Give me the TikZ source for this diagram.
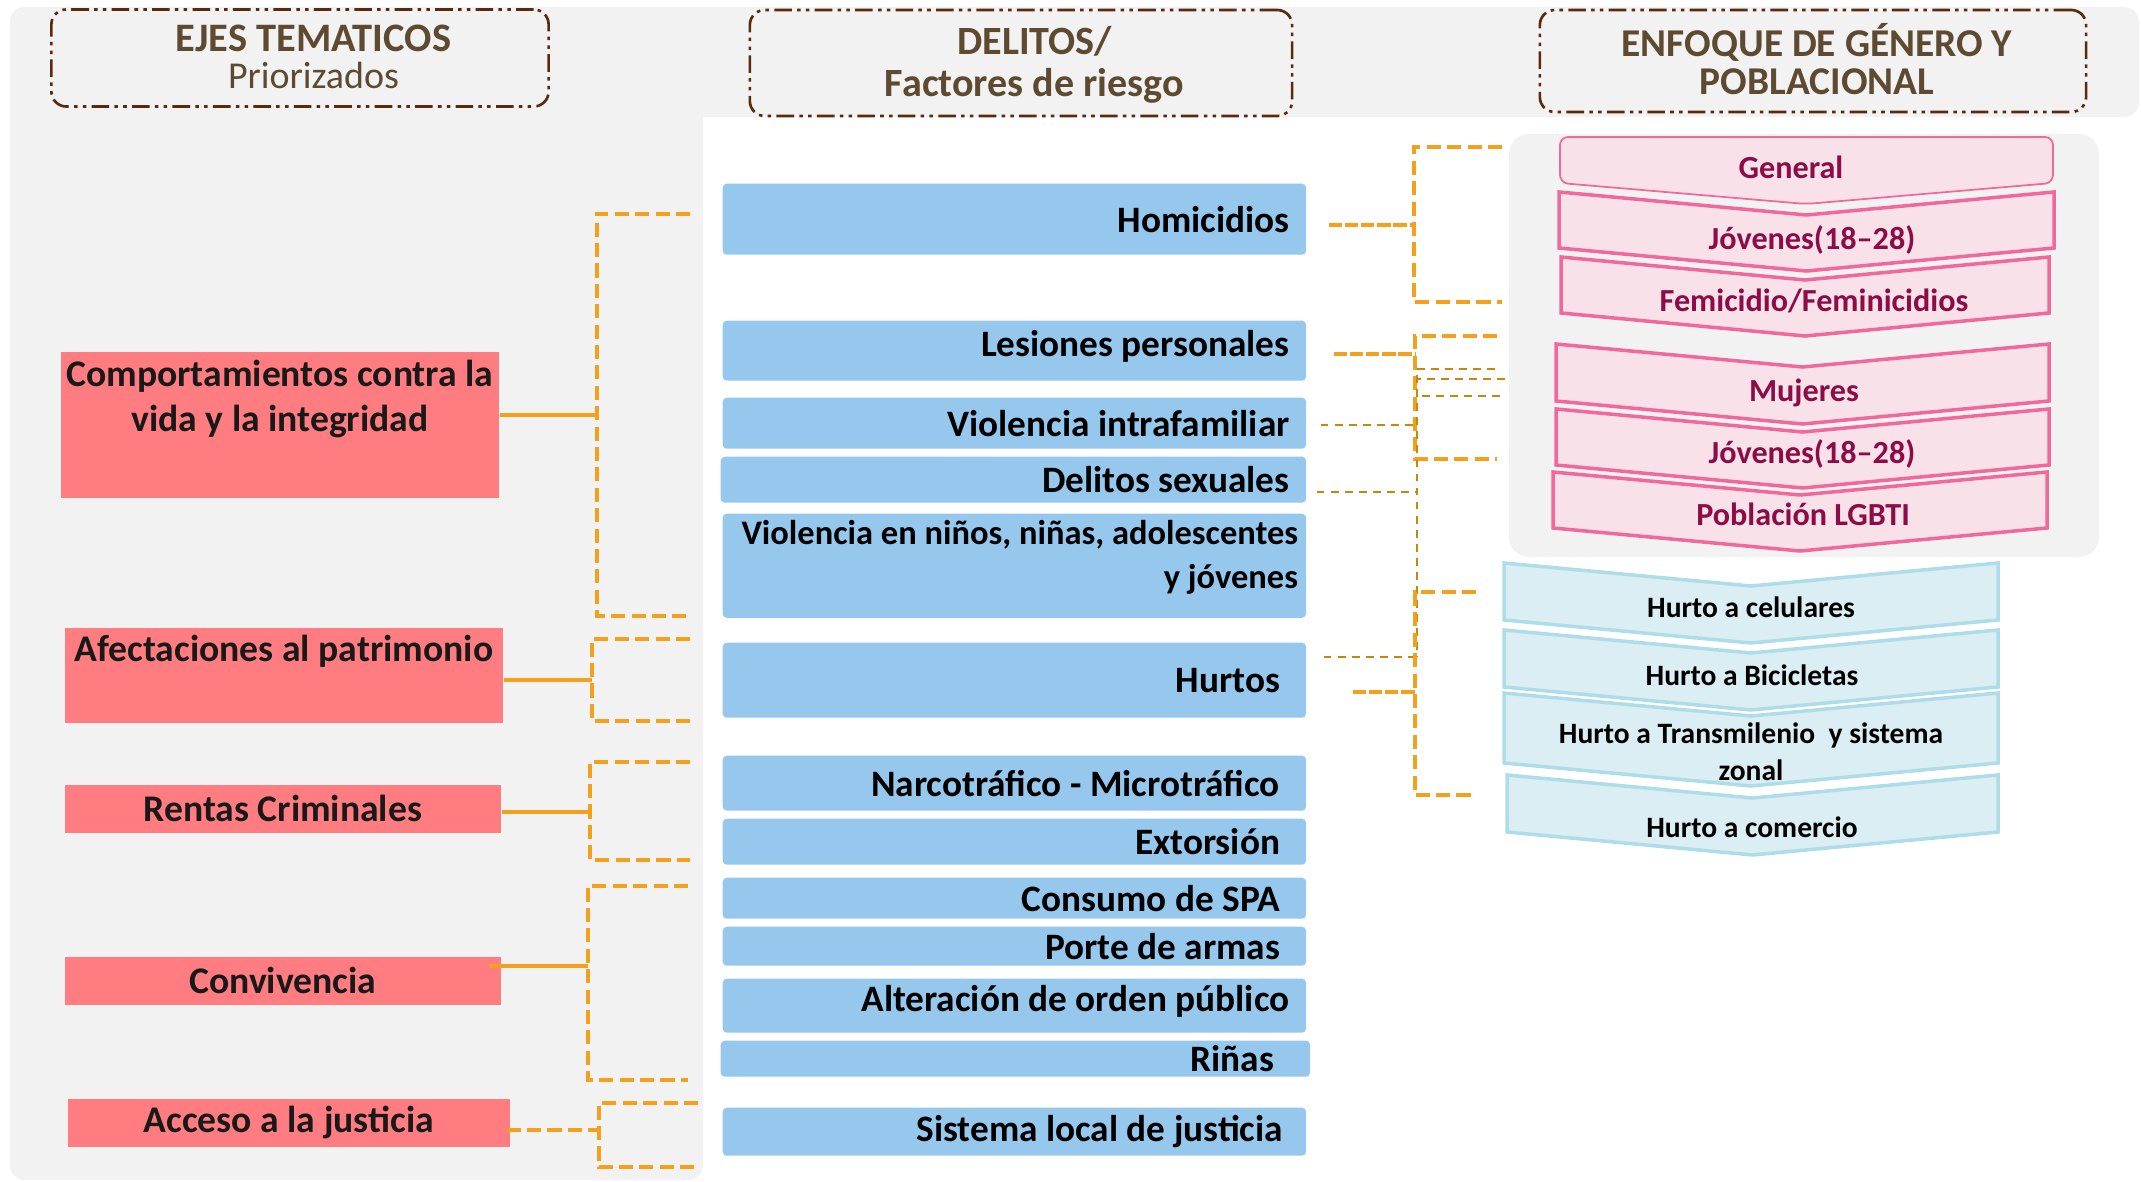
\documentclass[tikz,border=0pt]{standalone}
\usepackage{fontspec}
\setmainfont{Carlito}
\usetikzlibrary{positioning}

\definecolor{panelgray}{HTML}{F2F2F2}
\definecolor{hdrbrown}{HTML}{5E4A30}
\definecolor{hdrline}{HTML}{5A2A0E}
\definecolor{ejered}{HTML}{FF7C80}
\definecolor{delitoblue}{HTML}{95C8EC}
\definecolor{linkorange}{HTML}{F3A01C}
\definecolor{linkdark}{HTML}{C8860D}
\definecolor{pinkfill}{HTML}{F9E1EA}
\definecolor{pinkline}{HTML}{F0699A}
\definecolor{pinktext}{HTML}{8C0C45}
\definecolor{cyanfill}{HTML}{DAEEF3}
\definecolor{cyanline}{HTML}{AEDDE9}

\newcommand{\chevpath}[4]{(#1,#3) -- ({(#1+#2)/2},{#3+23}) -- (#2,#3) -- (#2,#4) -- ({(#1+#2)/2},{#4+23}) -- (#1,#4) -- cycle}

\begin{document}
\begin{tikzpicture}[x=0.01cm,y=-0.01cm]
    \tikzstyle{header}=[draw=hdrline, line width=0.75pt, dash pattern=on 5pt off 1.5pt on 1pt off 1.5pt on 1pt off 1.5pt, rounded corners=0.15cm, inner sep=0pt]
    \tikzstyle{hdrtext}=[align=flush center, text=hdrbrown, inner sep=0pt]
    \tikzstyle{eje}=[fill=ejered, anchor=north west, inner sep=0pt, align=flush center, text=black!90, font=\fontsize{10.7}{12.8}\selectfont\bfseries]
    \tikzstyle{ejetext}=[align=flush center, text=black!90, inner sep=0pt, font=\fontsize{10.7}{12.8}\selectfont\bfseries]
    \tikzstyle{delito}=[fill=delitoblue, rounded corners=0.04cm, anchor=north west, minimum width=5.83cm, text width=5.5cm, align=flush right, inner ysep=0pt, font=\fontsize{10.6}{12.5}\selectfont\bfseries]
    \tikzstyle{pinkchev}=[draw=pinkline, fill=pinkfill, line width=1pt]
    \tikzstyle{cyanchev}=[draw=cyanline, fill=cyanfill, line width=1pt]
    \tikzstyle{pinktxt}=[text=pinktext, inner sep=0pt, text height=0.7em, text depth=0.2em, font=\fontsize{9.15}{10.5}\selectfont\bfseries]
    \tikzstyle{cyantxt}=[align=flush center, inner sep=0pt, font=\fontsize{8.4}{10.5}\selectfont\bfseries]
    \tikzstyle{tie}=[draw=linkorange, line width=1.1pt]
    \tikzstyle{tiedash}=[tie, dash pattern=on 3.8pt off 0.8pt]
    \tikzstyle{bracket}=[tie, dash pattern=on 4pt off 1.8pt]
    \tikzstyle{thinlink}=[draw=linkdark, line width=0.55pt, dash pattern=on 2.2pt off 1.8pt]

    \useasboundingbox (0,0) rectangle (2141,1182);
    \fill[panelgray, rounded corners=0.15cm] (10,7) rectangle (2139,117);
    \fill[panelgray, rounded corners=0.15cm] (10,7) rectangle (703,1180);
    \fill[panelgray, rounded corners=0.2cm] (1509,134) rectangle (2099,557);

    \node[header, minimum width=4.97cm, minimum height=0.97cm] (ejes) at (300,58) {};
    \node[hdrtext, font=\fontsize{11.5}{10.5}\selectfont\bfseries] (ejestxt) at ([xshift=1.35mm,yshift=0.1mm]ejes.center) {EJES TEMATICOS\\{\fontsize{10.8}{10.5}\selectfont\mdseries Priorizados}};
    \node[header, minimum width=5.42cm, minimum height=1.06cm] (delitos) at (1021,63) {};
    \node[hdrtext, font=\fontsize{11.4}{11.8}\selectfont\bfseries] (delitostxt) at ([xshift=1.35mm,yshift=-0.2mm]delitos.center) {DELITOS/\\Factores de riesgo};
    \node[header, minimum width=5.46cm, minimum height=1.02cm] (enfoque) at (1813,61) {};
    \node[hdrtext, font=\fontsize{11.2}{11}\selectfont\bfseries] (enfoquetxt) at ([xshift=0.4mm,yshift=0.2mm]enfoque.center) {ENFOQUE DE GÉNERO Y\\POBLACIONAL};

    \node[eje, minimum width=4.38cm, minimum height=1.46cm] (comp) at (60,351) {};
    \node[ejetext, anchor=north] (comptxt) at ([yshift=-0.8mm]comp.north) {Comportamientos contra la\\vida y la integridad};
    \node[eje, minimum width=4.38cm, minimum height=0.95cm] (afect) at (64,627) {};
    \node[ejetext, anchor=north] (afecttxt) at ([yshift=-0.7mm]afect.north) {Afectaciones al patrimonio};
    \node[eje, minimum width=4.36cm, minimum height=0.48cm] (rentas) at (64,784) {Rentas Criminales};
    \node[eje, minimum width=4.36cm, minimum height=0.48cm] (conv) at (64,956) {Convivencia};
    \node[eje, minimum width=4.42cm, minimum height=0.48cm] (acceso) at (67,1098) {Acceso a la justicia};

    \node[delito, minimum height=0.71cm] (homi) at (722,183) {Homicidios};
    \node[delito, minimum height=0.60cm, text depth=0.42em] (lesion) at (722,320) {Lesiones personales};
    \node[delito, minimum height=0.51cm] (vif) at (722,397) {Violencia intrafamiliar};
    \node[delito, minimum height=0.46cm, minimum width=5.85cm, text width=5.52cm] (sexual) at (720,456) {Delitos sexuales};
    \node[delito, minimum height=1.04cm, inner xsep=0pt, text width=5.67cm, font=\fontsize{9.8}{12.3}\selectfont\bfseries] (ninos) at (722,513) {Violencia en niños, niñas, adolescentes\\y jóvenes\\[-0.6em]\mbox{}};
    \node[delito, minimum height=0.75cm, text width=5.31cm] (hurtos) at (722,642) {Hurtos};
    \node[delito, minimum height=0.55cm, text width=5.31cm] (narco) at (722,755) {Narcotráfico - Microtráfico};
    \node[delito, minimum height=0.46cm, text width=5.31cm] (extor) at (722,818) {Extorsión};
    \node[delito, minimum height=0.41cm, text width=5.31cm] (spa) at (722,877) {Consumo de SPA};
    \node[delito, minimum height=0.39cm, text width=5.31cm] (armas) at (722,926) {Porte de armas};
    \node[delito, minimum height=0.54cm, text depth=0.42em] (orden) at (722,978) {Alteración de orden público};
    \node[delito, minimum height=0.36cm, minimum width=5.89cm, text width=5.17cm] (rinas) at (720,1040) {Riñas};
    \node[delito, minimum height=0.48cm, text width=5.37cm] (sistema) at (722,1107) {Sistema local de justicia};

    \draw[pinkchev, line width=0.5pt, rounded corners=0.08cm] (1806,204) -- (1560,183) -- (1560,137) -- (2053,137) -- (2053,183) -- cycle;
    \draw[pinkchev] \chevpath{1559}{2054}{192}{248};
    \draw[pinkchev] \chevpath{1561}{2049}{257}{313};
    \draw[pinkchev] \chevpath{1556}{2049}{344}{401};
    \draw[pinkchev] \chevpath{1556}{2049}{409}{465};
    \draw[pinkchev] \chevpath{1553}{2047}{472}{528};
    \node[pinktxt] (general) at (1791,170) {General};
    \node[pinktxt] (jov1) at (1812,241) {Jóvenes(18--28)};
    \node[pinktxt] (femi) at (1814,303) {Femicidio/Feminicidios};
    \node[pinktxt] (mujeres) at (1804,393) {Mujeres};
    \node[pinktxt] (jov2) at (1812,455) {Jóvenes(18--28)};
    \node[pinktxt] (lgbti) at (1803,517) {Población LGBTI};

    \draw[cyanchev] \chevpath{1504}{1998}{563}{620};
    \draw[cyanchev] \chevpath{1504}{1998}{630}{687};
    \draw[cyanchev] \chevpath{1504}{1998}{693}{763};
    \draw[cyanchev] \chevpath{1507}{1998}{775}{832};
    \node[cyantxt] (celul) at (1751,607) {Hurto a celulares};
    \node[cyantxt] (bici) at (1752,675) {Hurto a Bicicletas};
    \node[cyantxt] (transm) at (1751,752) {Hurto a Transmilenio~ y sistema\\zonal};
    \node[cyantxt] (comerc) at (1752,827) {Hurto a comercio};

    \coordinate (comp-a) at (690,214);
    \coordinate (comp-b) at (690,616);
    \coordinate (afect-a) at (690,639);
    \coordinate (afect-b) at (690,721);
    \coordinate (rentas-a) at (690,762);
    \coordinate (rentas-b) at (690,860);
    \coordinate (conv-a) at (688,886);
    \coordinate (conv-b) at (688,1080);
    \coordinate (acceso-a) at (698,1103);
    \coordinate (acceso-b) at (698,1167);
    \draw[tie] ([yshift=1mm]comp.east) -- ++(97,0) coordinate (kcomp);
    \draw[bracket] (comp-a) -| (kcomp) |- (comp-b);
    \draw[tie] ([yshift=-0.5mm]afect.east) -- ++(88,0) coordinate (kafect);
    \draw[bracket] (afect-a) -| (kafect) |- (afect-b);
    \draw[tie] ([yshift=-0.3mm]rentas.east) -- ++(88,0) coordinate (krentas);
    \draw[bracket] (rentas-a) -| (krentas) |- (rentas-b);
    \draw[tie] ([xshift=-1.3mm,yshift=1.5mm]conv.east) -- ++(99,0) coordinate (kconv);
    \draw[bracket] (conv-a) -| (kconv) |- (conv-b);
    \draw[bracket] ([xshift=-0.4mm,yshift=-0.7mm]acceso.east) -- ++(92,0) coordinate (kacceso);
    \draw[bracket] (acceso-a) -| (kacceso) |- (acceso-b);

    \coordinate (homi-a) at (1502,147);
    \coordinate (homi-b) at (1502,302);
    \coordinate (lesion-a) at (1497,336);
    \coordinate (lesion-b) at (1497,459);
    \coordinate (thin-a) at (1495,369);
    \coordinate (thin-b) at (1505,379);
    \coordinate (thin-c) at (1500,396);
    \coordinate (hurtos-a) at (1476,592);
    \coordinate (hurtos-b) at (1476,795);
    \draw[tiedash] ([xshift=2.2mm,yshift=-0.6mm]homi.east) -- ++(85,0) coordinate (khomi);
    \draw[bracket] (homi-a) -| (khomi) |- (homi-b);
    \draw[tiedash] ([xshift=2.7mm,yshift=-0.3mm]lesion.east) -- ++(81,0) coordinate (klesion);
    \draw[bracket] (lesion-a) -| (klesion) |- (lesion-b);
    \draw[thinlink] ([xshift=1.4mm,yshift=-0.15mm]vif.east) -- ++(96,0) coordinate (kvif);
    \draw[thinlink] ([xshift=1mm,yshift=-1.2mm]sexual.east) -- ++(100,0) coordinate (ksexual);
    \draw[thinlink] ([xshift=1.7mm,yshift=2.3mm]hurtos.east) -- ++(93,0) coordinate (kthin);
    \draw[thinlink] (thin-a) -| (kthin);
    \draw[thinlink] (thin-b) -- (thin-b -| kvif);
    \draw[thinlink] (thin-c) -- (thin-c -| kvif);
    \draw[tiedash] ([xshift=4.6mm,yshift=-1.15mm]hurtos.east) -- ++(62,0) coordinate (khurtos);
    \draw[bracket] (hurtos-a) -| (khurtos) |- (hurtos-b);
\end{tikzpicture}
\end{document}
